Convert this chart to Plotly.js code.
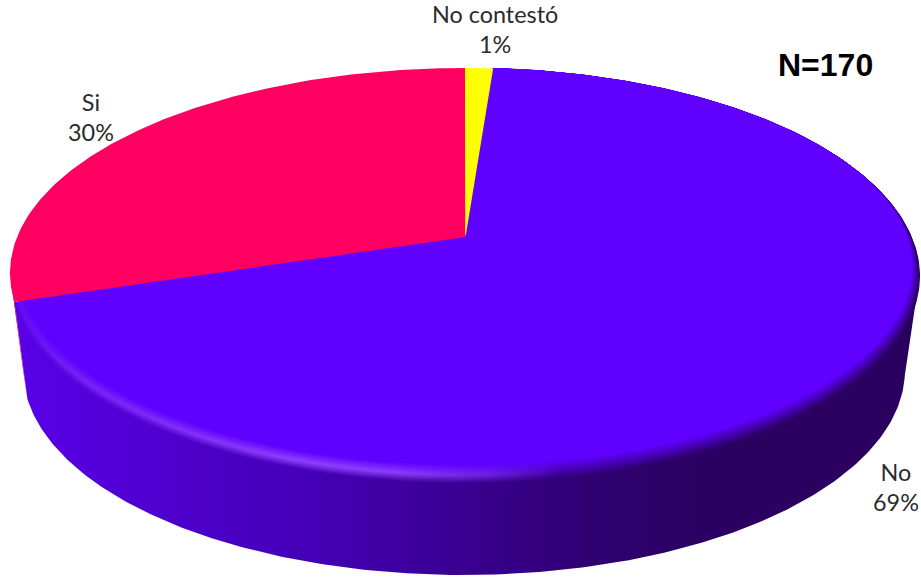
<!DOCTYPE html>
<html>
<head>
<meta charset="utf-8">
<script src="https://cdn.plot.ly/plotly-3.0.1.min.js"></script>
<style>html,body{margin:0;padding:0;background:#fff}#chart{width:921px;height:577px}</style>
</head>
<body>
<div id="chart"></div>
<script>
// Survey answers (N = 170), clockwise from twelve o'clock
const categories = ['No contestó', 'No', 'Si'];
const counts = [2, 117, 51];
const sampleLabel = 'N=170';
const sliceColors = ['#ffff00', '#6000ff', '#ff0060'];
const labelAnchors = [[495, 29], [896, 487], [91, 117]];

// Disc geometry on a page-sized axis: top face, base and the tilted hub
const top_ = {cx: 465, cy: 273, rx: 455, ry: 205};
const base = {cx: 464, cy: 370, rx: 441, ry: 205};
const hub = [465.5, 237];
const tilt = (hub[1] - top_.cy) / top_.ry;

// Side wall shading by horizontal position
const wallStops = [[0,'#5a00ec'],[20,'#5800e8'],[150,'#5000d0'],[300,'#4500b8'],[400,'#3e00a0'],
                   [500,'#360088'],[600,'#2f0070'],[700,'#2b0062'],[921,'#2a005f']];
const glowStops = [[0,.15],[20,.2],[80,.55],[150,.7],[300,1],[400,.95],[500,.45],[560,0],[921,0]];
const FACE = '#6000ff', GLOW = '#9040ff';

const hex = c => [1,3,5].map(i => parseInt(c.substr(i,2),16));
const mix = (a,b,t) => a.map((v,i) => v + (b[i]-v)*t);
const css = c => `rgb(${c.map(Math.round).join(',')})`;
function sample(stops, x, conv) {
  for (let i = 1; i < stops.length; i++) {
    if (x <= stops[i][0]) {
      const t = (x - stops[i-1][0]) / (stops[i][0] - stops[i-1][0]);
      const a = conv(stops[i-1][1]), b = conv(stops[i][1]);
      return mix(a, b, t);
    }
  }
  return conv(stops[stops.length-1][1]);
}

// Maps a true angle on the disc (degrees clockwise from top) into the unit
// circle of the projected ellipse, keeping straight lines through the hub.
function project(deg) {
  const a = deg * Math.PI / 180, X = Math.sin(a), Y = -Math.cos(a);
  const d = 1 + Y * tilt;
  return [X * Math.sqrt(1 - tilt*tilt) / d, (Y + tilt) / d];
}
const onEllipse = (e, p) => [e.cx + e.rx * p[0], e.cy + e.ry * p[1]];

function sector(e, from, to) {
  const xs = [hub[0]], ys = [hub[1]];
  const steps = Math.max(4, Math.ceil(Math.abs(to - from) / 0.75));
  for (let i = 0; i <= steps; i++) {
    const pt = onEllipse(e, project(from + (to - from) * i / steps));
    xs.push(pt[0]); ys.push(pt[1]);
  }
  xs.push(hub[0]); ys.push(hub[1]);
  return {x: xs, y: ys};
}

const total = counts.reduce((a,b) => a+b, 0);
const shares = counts.map(v => v / total * 360);
const bounds = [0];
shares.forEach(s => bounds.push(bounds[bounds.length-1] + s));

const poly = (pts, extra) => Object.assign({
  x: pts.x, y: pts.y, type: 'scatter', mode: 'lines', fill: 'toself',
  line: {width: 0}, hoverinfo: 'skip', showlegend: false
}, extra);

const traces = [];

// Side wall of the "Si" slice, only a sliver of it shows at the far left
const siEdge = project(bounds[2]);
const siTop = onEllipse(top_, siEdge), siBase = onEllipse(base, siEdge);
traces.push(poly({
  x: [siTop[0], top_.cx - top_.rx, base.cx - base.rx, siBase[0], siTop[0]],
  y: [siTop[1], top_.cy, base.cy, siBase[1], siTop[1]]
}, {fillgradient: {type: 'vertical', start: 298, stop: 335,
    colorscale: [[0,'#6a0020'],[1,'#f00058']]}}));

// Side wall of the "No" slice, from the right extreme round the front
const wallX = [], wallY = [];
const tEnd = Math.atan2(siEdge[1], siEdge[0]);
wallX.push(siTop[0]); wallY.push(siTop[1]);
wallX.push(top_.cx); wallY.push(top_.cy);
wallX.push(top_.cx + top_.rx); wallY.push(top_.cy);
for (let i = 0; i <= 240; i++) {
  const t = tEnd * i / 240;
  wallX.push(base.cx + base.rx * Math.cos(t));
  wallY.push(base.cy + base.ry * Math.sin(t));
}
wallX.push(siTop[0]); wallY.push(siTop[1]);
const wallScale = wallStops.map(s => [s[0] / 921, s[1]]);
traces.push(poly({x: wallX, y: wallY}, {fillgradient: {type: 'horizontal', start: 0, stop: 921, colorscale: wallScale}}));

// "No" top face: nested sectors form the bevel between wall and face
const RINGS = 14, INSET_X = 8;
const ringXs = [0,20,80,150,220,300,400,500,560,600,700,800,921];
for (let k = 0; k <= RINGS; k++) {
  const d = k / RINGS;
  const e = {cx: top_.cx, cy: top_.cy + 3 - 9.5 * d, rx: top_.rx - INSET_X * d, ry: top_.ry + 3 - 9 * d};
  const scale = ringXs.map(x => {
    const wall = sample(wallStops, x, hex);
    const s = sample(glowStops, x, v => [v])[0];
    const mid = mix(mix(wall, hex(FACE), .45), hex(GLOW), s);
    const c = d < .45 ? mix(wall, mid, d / .45) : mix(mid, hex(FACE), (d - .45) / .55);
    return [x / 921, css(c)];
  });
  traces.push(poly(sector(e, bounds[1], bounds[2]),
    {fillgradient: {type: 'horizontal', start: 0, stop: 921, colorscale: scale}}));
}

// Flat top faces of the two remaining slices
traces.push(poly(sector(top_, bounds[2], bounds[3]), {fillcolor: sliceColors[2]}));
traces.push(poly(sector(top_, bounds[0], bounds[1]), {fillcolor: sliceColors[0]}));

// Category name over its rounded percentage
const annotations = categories.map((c, i) => ({
  x: labelAnchors[i][0], y: labelAnchors[i][1], xref: 'x', yref: 'y', showarrow: false,
  text: `${c}<br>${Math.round(counts[i] / total * 100)}%`,
  align: 'center', font: {family: 'Lato, "Noto Sans", sans-serif', size: 23.4, color: '#2b2b2b'}
}));
annotations.push({
  x: 825.5, y: 65, xref: 'x', yref: 'y', showarrow: false, text: `<b>${sampleLabel}</b>`,
  font: {family: '"Liberation Sans", Arial, sans-serif', size: 32, color: '#000'}
});

Plotly.newPlot('chart', traces, {
  width: 921, height: 577, margin: {l: 0, r: 0, t: 0, b: 0},
  paper_bgcolor: '#fff', plot_bgcolor: '#fff', showlegend: false,
  xaxis: {range: [0, 921], visible: false, fixedrange: true},
  yaxis: {range: [577, 0], visible: false, fixedrange: true},
  annotations
}, {displayModeBar: false, staticPlot: true});
</script>
</body>
</html>
